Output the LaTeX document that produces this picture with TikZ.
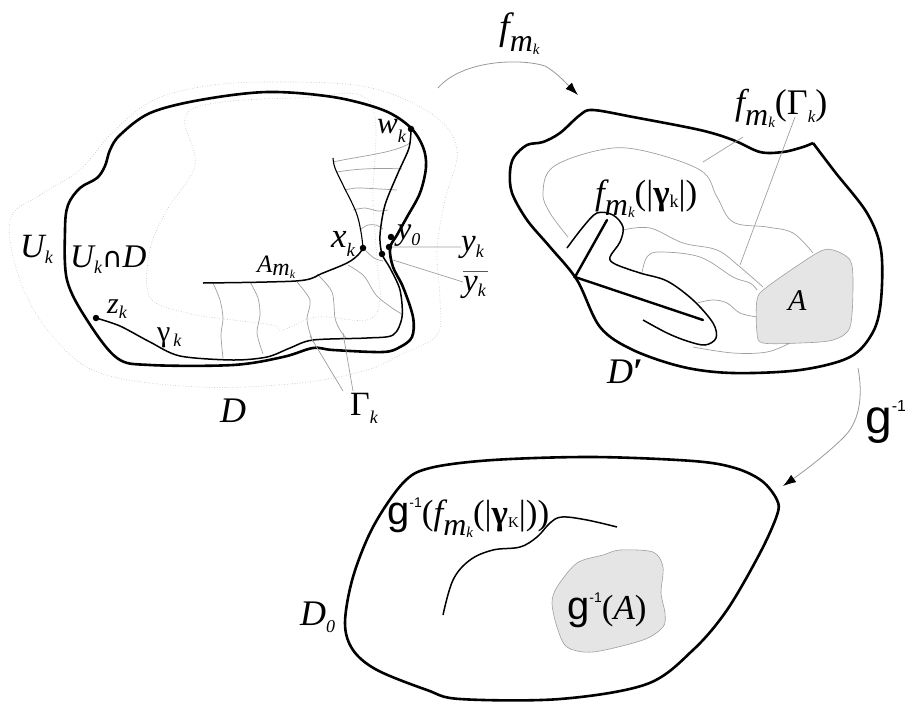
\documentclass[tikz,border=0pt]{standalone}
\usepackage{fontspec}
\setmainfont{Liberation Serif}
\newfontfamily\gsans{Liberation Sans}
\newfontfamily\dvs{DejaVu Sans}
\usetikzlibrary{arrows.meta}
\newcommand\lo[3]{\raisebox{-#1pt}{\fontsize{#2}{#2}\selectfont #3}}
\newcommand\fs[1]{\fontsize{#1}{#1}\selectfont}
\newcommand\fmk{{\itshape f\lo{11}{32}{m\lo{2}{15}{k}}}}
\newcommand\ginv[3]{{\gsans\fs{#1}g\raisebox{#2pt}{\fs{#3}-1}}}
\begin{document}
\begin{tikzpicture}[x=1pt,y=-1pt,
  bnd/.style={line width=2.6pt, line join=round},
  crv/.style={line width=1.5pt},
  gl/.style={gray!75, line width=0.7pt},
  dl/.style={gray!55, line width=0.6pt, dotted},
  lbl/.style={inner sep=0pt, anchor=base west},
  dot/.style={circle, fill=black, inner sep=0pt, minimum size=6.5pt},
  arr/.style={gray!80, line width=0.8pt, -{Latex[black,length=13pt,width=9pt]}}
]
\useasboundingbox (0,0) rectangle (905,702);

% ---------- left figure: U_k (outer dotted) ----------
\draw[dl] plot[smooth cycle, tension=0.6] coordinates {
  (10,220) (40,195) (80,170) (110,135) (150,102) (200,87) (267,82) (367,87)
  (433,115) (457,150) (445,200) (437,250) (440,300) (437,335) (400,355)
  (367,370) (300,383) (200,387) (100,373) (50,333) (20,280)};
% inner dotted
\draw[dl] plot[smooth cycle, tension=0.6] coordinates {
  (185,118) (215,103) (300,98) (370,102) (373,200) (377,260) (380,300)
  (367,320) (317,317) (283,330) (273,325) (233,320) (187,313) (150,297)
  (150,250) (167,210) (195,165)};

% boundary of D
\draw[bnd] plot[smooth cycle, tension=0.55] coordinates {
  (120,135) (150,113) (200,100) (267,92) (333,97) (383,110) (410,127)
  (423,147) (426,167) (420,193) (407,217) (397,235) (390,248) (393,267)
  (403,287) (413,317) (412,337) (400,347) (383,352) (333,350) (313,348)
  (283,357) (233,365) (150,365) (117,358) (87,320) (67,280) (65,230)
  (68,205) (80,188) (97,178) (105,166) (110,150)};

% Gamma_k hatch lines (funnel)
\draw[gl] (333,162) .. controls (360,156) and (395,153) .. (410,143);
\draw[gl] (337,172) .. controls (360,168) and (385,168) .. (402,169);
\draw[gl] plot[smooth] coordinates {(345,190) (357,188) (380,189) (397,190)};
\draw[gl] plot[smooth] coordinates {(353,210) (365,208) (378,211) (388,210)};
\draw[gl] plot[smooth] coordinates {(361,229) (368,225) (376,225) (383,229)};
% hatch lines below A_m
\draw[gl] plot[smooth] coordinates {(213,283) (220,300) (223,318) (221,335) (223,358)};
\draw[gl] plot[smooth] coordinates {(250,282) (258,298) (260,315) (257,333) (263,354)};
\draw[gl] plot[smooth] coordinates {(297,282) (310,300) (307,318) (309,330) (313,342)};
\draw[gl] plot[smooth] coordinates {(317,274) (332,292) (335,318) (340,330) (346,338)};
\draw[gl] plot[smooth] coordinates {(348,265) (364,276) (376,295) (392,308) (402,314)};
\draw[gl] plot[smooth] coordinates {(363,248) (374,258) (383,261)};

% A_{m_k}
\draw[crv] plot[smooth, tension=0.6] coordinates {(203,283) (267,282) (305,280) (323,273) (347,263) (358,255) (363,248)};
% funnel left side
\draw[line width=1.1pt] plot[smooth, tension=0.6] coordinates {(363,248) (361,232) (356,212) (343,185) (335,168) (333,158)};
% gamma_k
\draw[crv] plot[smooth, tension=0.5] coordinates {
  (96,318) (120,326) (150,342) (180,356) (233,360) (267,357) (290,348) (313,340)
  (367,338) (393,335) (402,317) (400,290) (390,268) (382,254) (380,235)
  (385,205) (398,173) (409,148) (411,129)};

% points
\node[dot] (zk) at (96,318) {};
\node[dot] (wk) at (411,129) {};
\node[dot] (xk) at (363,248) {};
\node[dot] (y0) at (391,237) {};
\node[dot] (yk) at (389,247) {};
\node[dot] (ybk) at (382,254) {};

% labels
\node[lbl, font=\fs{34}] (lUk) at (20,257) {\itshape U\lo{6}{18}{k}};
\node[lbl, font=\fs{33}] (lUD) at (70,267) {{\itshape U\lo{6}{18}{k}}{\dvs\fs{28}∩}{\itshape D}};
\node[lbl, font=\fs{25}] (lAm) at (257,272) {\itshape A\lo{3}{24}{m\lo{3}{12}{k}}};
\node[lbl, font=\fs{30}] (lzk) at (107,313) {\itshape z\lo{5}{18}{k}};
\node[lbl, font=\fs{30}] (lgk) at (157,341) {γ\hspace{3pt}\lo{5}{18}{\itshape k}};
\node[lbl, font=\fs{36}] (lD) at (220,422) {\itshape D};
\node[lbl, font=\fs{34}] (lGk) at (350,415) {Γ\lo{8}{18}{\itshape k}};
\node[lbl, font=\fs{35}] (lxk) at (331,247) {\itshape x\lo{9}{19}{k}};
\node[lbl, font=\fs{32}] (ly0) at (397,239) {\itshape y\lo{6}{18}{0}};
\node[lbl, font=\fs{33}] (lyk) at (461,251) {\itshape y\lo{6}{18}{k}};
\node[lbl, font=\fs{33}] (lybk) at (463,291) {\itshape y\lo{5}{18}{k}};
\draw[line width=0.9pt, gray!70!black] ([yshift=4pt]lybk.north west) -- ([xshift=2pt, yshift=4pt]lybk.north east);
\node[lbl, font=\fs{31}] (lwk) at (377,133) {\itshape w\lo{9}{18}{k}};

% leaders
\draw[gl] (yk) -- (lyk.west);
\draw[gl] (393,260) -- (463,282);
\draw[gl] (343,391) -- (310,336);
\draw[gl] (353,391) -- (343,333);

% ---------- arrow f_{m_k} ----------
\coordinate (fa) at (438,88);
\coordinate (fb) at (578,95);
\draw[arr] (fa) .. controls (462,60) and (520,58) .. (545,66) .. controls (556,72) and (566,83) .. (fb);
\node[lbl, font=\fs{38}] (lf) at (499,39) {\itshape f\lo{12}{32}{m\lo{3}{15}{k}}};

% ---------- D' ----------
\fill[gray!20] plot[smooth cycle, tension=0.5] coordinates {
  (757,300) (767,287) (817,253) (833,250) (850,260) (853,283) (850,327)
  (833,340) (800,343) (763,343) (757,333)};
\draw[gray!75, line width=0.6pt] plot[smooth cycle, tension=0.5] coordinates {
  (757,300) (767,287) (817,253) (833,250) (850,260) (853,283) (850,327)
  (833,340) (800,343) (763,343) (757,333)};

\draw[bnd] plot[smooth, tension=0.55] coordinates {
  (813,143) (835,172) (867,213) (881,250) (881,300) (873,332) (850,357)
  (800,370) (733,373) (683,367) (633,350) (600,327) (577,280) (550,247)
  (527,220) (512,193) (510,172) (514,157) (527,145) (543,142) (560,133)
  (580,115) (593,110) (633,117) (700,130) (733,140) (760,152) (783,152)
  (803,147) (813,143)};

% f(Gamma) gray lines
\draw[gl] plot[smooth, tension=0.6] coordinates {(568,237) (550,213) (543,193) (553,167) (600,150) (640,150) (700,170) (717,197) (733,222) (767,227) (793,233) (813,253)};
\draw[gl] plot[smooth, tension=0.6] coordinates {(623,230) (650,228) (683,243) (717,250) (740,267) (763,287)};
\draw[gl] plot[smooth, tension=0.6] coordinates {(642,273) (647,257) (660,252) (700,257) (733,277) (750,283) (757,290)};
\draw[gl] plot[smooth, tension=0.6] coordinates {(697,303) (713,300) (727,303) (740,313) (757,317)};
\draw[gl] plot[smooth, tension=0.6] coordinates {(693,347) (733,353) (767,352) (790,343)};

% f(|gamma|)
\draw[crv] plot[smooth, tension=0.55] coordinates {
  (567,248) (583,227) (597,213) (613,215) (623,227) (620,242) (610,257)
  (615,264) (640,273) (667,281) (693,300) (713,323) (716,338) (705,345)
  (687,341) (667,333) (643,320)};
\coordinate (tA) at (575,277);
\draw[line width=2.4pt, line cap=round] (607,220) -- (tA) -- (703,320);

% leaders of f(Gamma)
\draw[gl] (743,137) -- (703,162);
\draw[gl] (795,117) -- (740,265);

\node[lbl, font=\fs{36}] (lfG) at (735,114) {\fmk(Γ\lo{8}{17}{\itshape k})};
\node[lbl, font=\fs{35}] (lfg) at (595,204) {\fmk(|\textbf{γ}\lo{3}{18}{k}|)};
\node[lbl, font=\fs{30}] (lA) at (788,310) {\itshape A};
\node[lbl, font=\fs{36}] (lDp) at (607,383) {\itshape D\upshape\textbf{\char"2032}};

% ---------- arrow g^{-1} ----------
\coordinate (ga) at (858,368);
\coordinate (gb) at (783,486);
\draw[arr] (ga) .. controls (863,395) and (860,420) .. (845,436) .. controls (825,456) and (800,474) .. (gb);
\node[lbl] (lg) at (865,433) {\ginv{48}{22}{16}};

% ---------- D_0 ----------
\fill[gray!20] plot[smooth cycle, tension=0.5] coordinates {
  (557,587) (577,563) (603,555) (620,550) (653,552) (663,567) (661,593)
  (665,613) (663,627) (643,640) (593,652) (567,647) (557,627) (552,603)};
\draw[gray!75, line width=0.6pt] plot[smooth cycle, tension=0.5] coordinates {
  (557,587) (577,563) (603,555) (620,550) (653,552) (663,567) (661,593)
  (665,613) (663,627) (643,640) (593,652) (567,647) (557,627) (552,603)};

\draw[bnd] plot[smooth cycle, tension=0.55] coordinates {
  (345,623) (353,577) (373,527) (403,483) (430,468) (493,460) (593,457)
  (693,461) (735,468) (762,481) (777,500) (777,515) (760,553) (727,610)
  (693,650) (647,684) (560,699) (460,699) (427,690) (377,670) (353,650)};

\draw[crv] plot[smooth, tension=0.6] coordinates {
  (443,615) (453,580) (470,560) (493,550) (520,547) (537,537) (550,523)
  (562,517) (587,520) (617,527)};

\node[lbl, font=\fs{35}] (lgf) at (387,524) {\ginv{40}{17}{14}(\fmk(|\textbf{γ}\lo{3}{15}{K}|))};
\node[lbl, font=\fs{35}] (lgA) at (567,619) {\ginv{40}{17}{14}(\itshape A\upshape)};
\node[lbl, font=\fs{36}] (lD0) at (300,625) {\itshape D\lo{7}{18}{0}};
\end{tikzpicture}
\end{document}
